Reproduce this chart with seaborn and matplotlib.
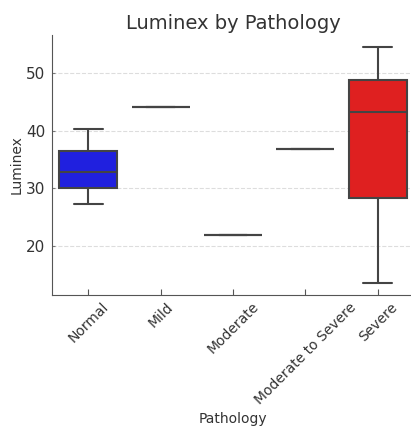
import matplotlib
matplotlib.use("Agg")
import matplotlib.pyplot as plt
import seaborn as sns
import pandas as pd

categories = ["Normal", "Mild", "Moderate", "Moderate to Severe", "Severe"]
normal_vals = [27.3, 30.0, 32.9, 36.5, 40.3]
mild_vals = [44.1]
moderate_vals = [21.9]
mod_severe_vals = [36.8]
severe_vals = [13.6, 28.4, 43.2, 48.8, 54.5]

rows = []
for cat, vals in zip(categories, [normal_vals, mild_vals, moderate_vals, mod_severe_vals, severe_vals]):
    for v in vals:
        rows.append({"Pathology": cat, "Luminex": v})
df = pd.DataFrame(rows)

sns.set_style("ticks")
plt.rcParams['font.family'] = ['DejaVu Sans']

fig = plt.figure(figsize=(4.11, 4.29), dpi=100)
ax = fig.add_axes([52/411, 134/429, 362/411, 260/429])

palette = {"Normal": "blue", "Mild": "orange", "Moderate": "green",
           "Moderate to Severe": "purple", "Severe": "red"}
sns.boxplot(data=df, x="Pathology", y="Luminex", hue="Pathology", order=categories,
            palette=palette, linecolor="#444444", linewidth=1.5, legend=False, ax=ax)

ax.yaxis.grid(True, linestyle="--", color="#dddddd", linewidth=0.8)
ax.set_axisbelow(True)
sns.despine(ax=ax)
ax.spines["left"].set_color("#555555")
ax.spines["bottom"].set_color("#555555")
ax.tick_params(axis="x", direction="in", length=4, color="#555555", labelsize=10, labelcolor="#333333")
ax.tick_params(axis="y", direction="in", length=2, color="#777777", pad=5, labelsize=11, labelcolor="#333333")
plt.setp(ax.get_xticklabels(), rotation=45)
ax.set_yticks([20, 30, 40, 50])
ax.set_xlabel("Pathology", fontsize=10, color="#333333")
ax.set_ylabel("Luminex", fontsize=10, color="#333333", labelpad=1.5)
ax.set_title("Luminex by Pathology", fontsize=14, color="#333333", pad=4)

fig.savefig("out.png", dpi=100)
